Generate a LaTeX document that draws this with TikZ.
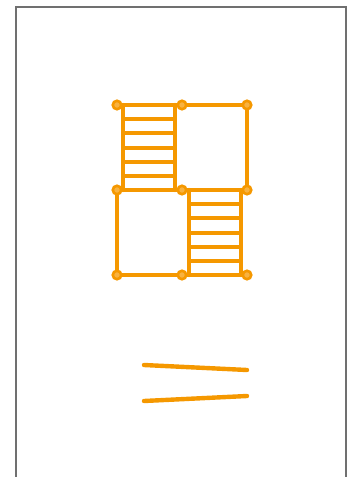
\documentclass[tikz,border=0pt]{standalone}
\usetikzlibrary{positioning, calc}
\definecolor{stairorange}{RGB}{245, 152, 0}
\definecolor{framegray}{RGB}{112, 112, 112}

\begin{document}
\begin{tikzpicture}[
    x=1pt, y=-1pt,
    wall/.style={draw=stairorange, line width=4.4pt, line cap=round, line join=round},
    rung/.style={draw=stairorange, line width=4pt},
    joint/.style={circle, draw=stairorange, fill=stairorange!75!white,
        line width=2.6pt, inner sep=0pt, minimum size=8.5pt},
    frame/.style={draw=framegray, line width=2.2pt}
]
    \useasboundingbox (0,0) rectangle (347,477);

    % outer frame, open at the bottom
    \coordinate (fa) at (16,480);
    \coordinate (fb) at (16,7);
    \coordinate (fc) at (346,7);
    \coordinate (fd) at (346,480);
    \draw[frame] (fa) -- (fb) -- (fc) -- (fd);

    % grid corners
    \foreach \c/\x in {1/117, 2/182, 3/247}
        \foreach \r/\y in {1/105, 2/190, 3/275}
            \coordinate (g\r\c) at (\x,\y);

    % walls
    \draw[wall] (g11) -- (g13) -- (g23);
    \draw[wall] (g21) -- (g23);
    \draw[wall] (g21) -- (g31) -- (g33);

    % upper stair
    \coordinate (ua) at (123,105);
    \coordinate (ub) at (123,190);
    \coordinate (uc) at (175,105);
    \coordinate (ud) at (175,190);
    \draw[wall] (ua) -- (ub);
    \draw[wall] (uc) -- (ud);
    \foreach \k in {1,...,5}
        \draw[rung] ($(ua)!\k/6!(ub)$) -- ($(uc)!\k/6!(ud)$);

    % lower stair
    \coordinate (la) at (189,190);
    \coordinate (lb) at (189,275);
    \coordinate (lc) at (241,190);
    \coordinate (ld) at (241,275);
    \draw[wall] (la) -- (lb);
    \draw[wall] (lc) -- (ld);
    \foreach \k in {1,...,5}
        \draw[rung] ($(la)!\k/6!(lb)$) -- ($(lc)!\k/6!(ld)$);

    % corner joints
    \foreach \r in {1,2,3}
        \foreach \c in {1,2,3}
            \node[joint] (j\r\c) at (g\r\c) {};

    % sign below
    \coordinate (sa) at (144,365);
    \coordinate (sb) at (247,370);
    \coordinate (sc) at (144,401);
    \coordinate (sd) at (247,396);
    \draw[wall] (sa) -- (sb);
    \draw[wall] (sc) -- (sd);
\end{tikzpicture}
\end{document}
